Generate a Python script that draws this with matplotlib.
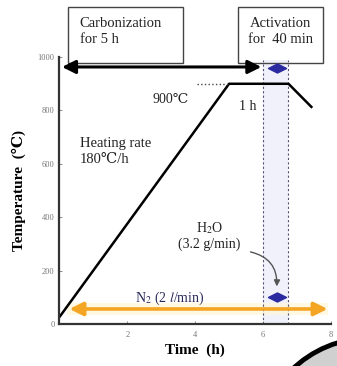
import matplotlib
matplotlib.use("Agg")
import matplotlib.pyplot as plt
from matplotlib.patches import Rectangle, Circle
from matplotlib.path import Path
from matplotlib.transforms import IdentityTransform

plt.rcParams['font.family'] = ['Liberation Serif', 'DejaVu Serif']
plt.rcParams['mathtext.fontset'] = 'stix'

# temperature program (h, degC)
prog_t = [0, 5.0, 6.75, 7.45]
prog_T = [25, 900, 900, 810]

# stages
carb_span = [0.08, 5.95]
carb_y = 963
act_span = [6.0, 6.75]
n2_span = [0.3, 7.9]
n2_y = 56
h2o_t = 6.4
h2o_T = [960, 100]

xticks = [2, 4, 6, 8]
yticks = [0, 200, 400, 600, 800, 1000]

fig = plt.figure(figsize=(3.37, 3.66), dpi=100)
ax = fig.add_axes([0.176, 0.115, 0.806, 0.729])

ax.set_xlim(0, 8)
ax.set_ylim(0, 1000)
for s in ['top', 'right']:
    ax.spines[s].set_visible(False)
for s in ['left', 'bottom']:
    ax.spines[s].set_linewidth(1.6)
    ax.spines[s].set_color('#333333')

ax.set_xticks(xticks)
ax.set_yticks(yticks)
ax.tick_params(direction='in', length=2, width=0.6, labelsize=6, colors='#777777')
ax.tick_params(axis='x', pad=5)
ax.set_xlabel('Time  (h)', fontsize=11, fontweight='bold', labelpad=3)
ax.set_ylabel('Temperature  (℃)', fontsize=11, fontweight='bold', labelpad=8)

# activation window
ax.axvspan(act_span[0], act_span[1], ymax=0.99, color='#e8e8fa', alpha=0.6, lw=0)
for x in act_span:
    ax.plot([x, x], [0, 990], ls=(0, (2, 2)), color='#555577', lw=0.8)

# program line
ax.plot(prog_t, prog_T, color='black', lw=1.8, solid_capstyle='butt')
ax.plot([4.05, 5.0], [900, 900], ls=':', color='#444444', lw=1)

# carbonization arrow
ax.annotate('', xy=(carb_span[0], carb_y), xytext=(carb_span[1], carb_y),
            arrowprops=dict(arrowstyle='<|-|>', color='black', lw=2.2,
                            mutation_scale=20, shrinkA=0, shrinkB=0))

# N2 arrow
ax.axhspan(n2_y - 22, n2_y + 22, xmin=0.03, xmax=0.99, color='#fff6d8', lw=0, alpha=0.7)
ax.annotate('', xy=(n2_span[0], n2_y), xytext=(n2_span[1], n2_y),
            arrowprops=dict(arrowstyle='<|-|>', color='#f5a524', lw=2.6,
                            mutation_scale=20, shrinkA=0, shrinkB=0))
ax.text(3.25, 62, 'N$_2$ (2 $l$/min)', fontsize=10, color='#2a2a5a',
        ha='center', va='bottom')

# H2O diamonds
dia = Path([(-1, 0), (0, 0.5), (1, 0), (0, -0.5), (-1, 0)],
           [Path.MOVETO, Path.LINETO, Path.LINETO, Path.LINETO, Path.CLOSEPOLY])
ax.plot([h2o_t] * len(h2o_T), h2o_T, ls='none', marker=dia, markersize=13,
        color='#2a2aa0', clip_on=False)

ax.text(4.42, 330, 'H$_2$O', fontsize=10, ha='center', va='bottom', color='#222222')
ax.text(4.42, 325, '(3.2 g/min)', fontsize=10, ha='center', va='top', color='#222222')
ax.annotate('', xy=(h2o_t, 130), xytext=(5.55, 272),
            arrowprops=dict(arrowstyle='-|>', color='#555555', lw=1,
                            connectionstyle='arc3,rad=-0.45', mutation_scale=9))

# labels
ax.text(2.74, 840, '900℃', fontsize=10, ha='left', va='center', color='#222222')
ax.text(5.28, 813, '1 h', fontsize=10, ha='left', va='center', color='#222222')
ax.text(0.6, 700, 'Heating rate\n180℃/h', fontsize=10.5, ha='left', va='top',
        linespacing=1.3, color='#222222')

# stage boxes
ax.add_patch(Rectangle((0.25, 977), 3.4, 210, fill=False, ec='#444444', lw=1,
                       clip_on=False))
ax.text(0.6, 1150, 'Carbonization\nfor 5 h', fontsize=10.5, ha='left', va='top',
        linespacing=1.25, color='#222222', clip_on=False)
ax.add_patch(Rectangle((5.25, 977), 2.52, 210, fill=False, ec='#444444', lw=1,
                       clip_on=False))
ax.text(6.51, 1150, 'Activation\nfor  40 min', fontsize=10.5, ha='center', va='top',
        linespacing=1.25, color='#222222', clip_on=False)

# corner decoration
fig.add_artist(Circle((370, -84), 112, transform=IdentityTransform(),
                      facecolor='#d0d0d0', edgecolor='black', lw=3.5))

fig.savefig('out.png', dpi=100)
